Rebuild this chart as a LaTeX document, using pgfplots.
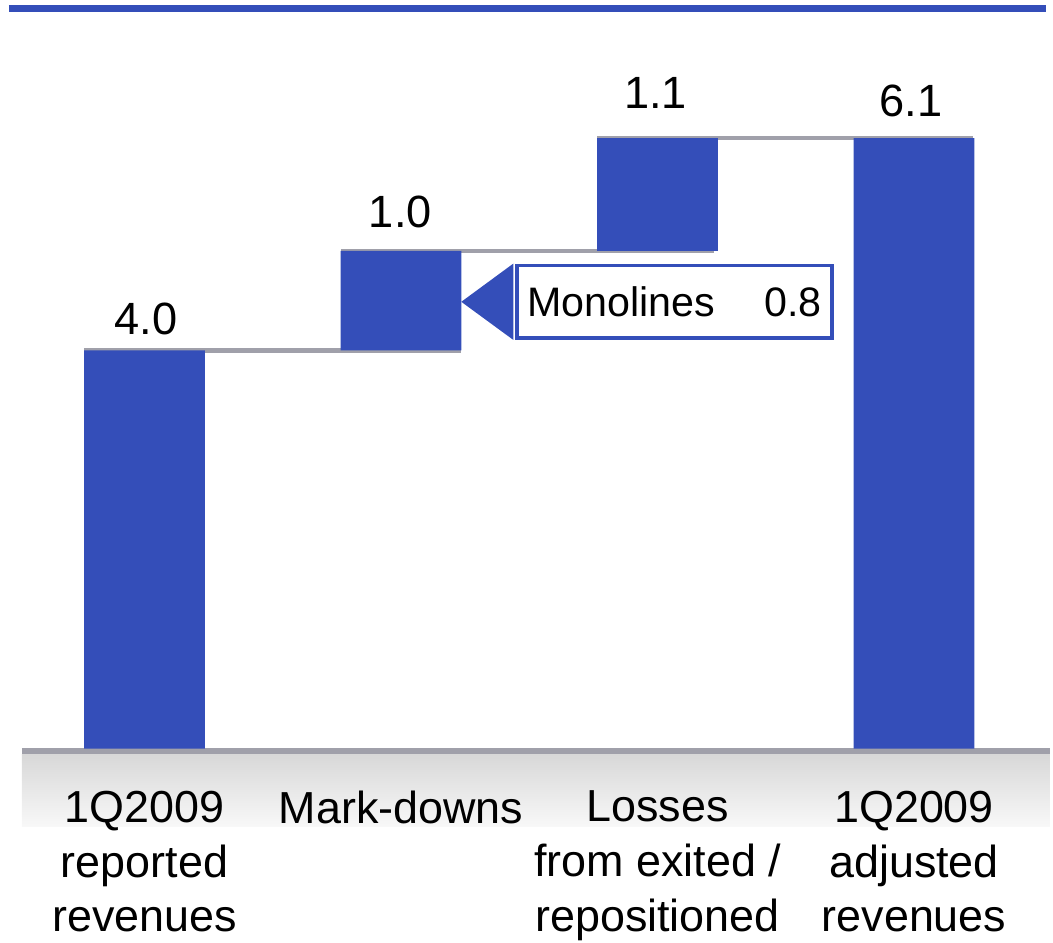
\documentclass[border=0pt]{standalone}
\usepackage{fontspec}
\setmainfont{Liberation Sans}
\usepackage{pgfplots}
\pgfplotsset{compat=1.18}
\definecolor{barblue}{RGB}{52,78,185}
\definecolor{lgrey}{RGB}{160,160,170}
\definecolor{gtop}{RGB}{216,216,216}
\definecolor{gbot}{RGB}{248,248,248}
\begin{document}
\begin{tikzpicture}
% gradient band below the baseline (background, drawn first; axis south west is at (0,0))
\fill[top color=gtop, bottom color=gbot] (16.5pt,141pt) rectangle (789.75pt,87pt);
\begin{axis}[
  at={(0,0)}, anchor=south west,
  scale only axis, width=789.75pt, height=708.75pt,
  xmin=-0.5632, xmax=3.5293, ymin=-1.942, ymax=7.518,
  axis line style={draw=none}, tick style={draw=none},
  ytick=\empty,
  xtick={0,1,2,3},
  xticklabels={{1Q2009\\reported\\revenues},{Mark-downs},{Losses\\from exited /\\repositioned},{1Q2009\\adjusted\\revenues}},
  xticklabel style={align=center, font=\fontsize{33.75}{41.25}\selectfont, anchor=north, inner sep=0pt, yshift=114pt},
  clip=false,
  ybar stacked, bar width=90.75pt,
]
% invisible offsets
\addplot[draw=none, fill=none] coordinates {(0,0) (1,4.0) (2,5.0) (3,0)};
% visible bars
\addplot[draw=none, fill=barblue] coordinates {(0,4.0) (1,1.0) (2,1.13) (3,6.13)};
% baseline
\draw[lgrey, line width=4.8pt] (axis cs:-0.4776,-0.025) -- (axis cs:3.5293,-0.025);
% top line
\draw[barblue, line width=5.5pt] (axis cs:-0.5282,7.434) -- (axis cs:3.5137,7.434);
% connectors
\draw[lgrey, line width=3.4pt] (axis cs:-0.2363,4.0) -- (axis cs:1.2324,4.0);
\draw[lgrey, line width=3.4pt] (axis cs:0.766,5.0) -- (axis cs:2.2194,5.0);
\draw[lgrey, line width=3.4pt] (axis cs:1.766,6.13) -- (axis cs:3.230,6.13);
% value labels
\node[anchor=base, font=\fontsize{34}{40}\selectfont, inner sep=0pt] at (axis cs:0.0062,4.164) {4.0};
\node[anchor=base, font=\fontsize{34}{40}\selectfont, inner sep=0pt] at (axis cs:0.9973,5.232) {1.0};
\node[anchor=base, font=\fontsize{34}{40}\selectfont, inner sep=0pt] at (axis cs:1.9922,6.433) {1.1};
\node[anchor=base, font=\fontsize{34}{40}\selectfont, inner sep=0pt] at (axis cs:2.989,6.349) {6.1};
% callout
\fill[barblue] (axis cs:1.2351,4.4875) -- (axis cs:1.4383,4.872) -- (axis cs:1.4383,4.104) -- cycle;
\node[draw=barblue, line width=2.8pt, fill=white, anchor=west,
      minimum width=236.6pt, minimum height=54.8pt, text width=221.6pt,
      inner xsep=7.5pt, inner ysep=0pt, align=left,
      font=\fontsize{31}{36}\selectfont, text=black]
  at (axis cs:1.4458,4.4875) {Monolines\hfill 0.8};
\end{axis}
\end{tikzpicture}
\end{document}
